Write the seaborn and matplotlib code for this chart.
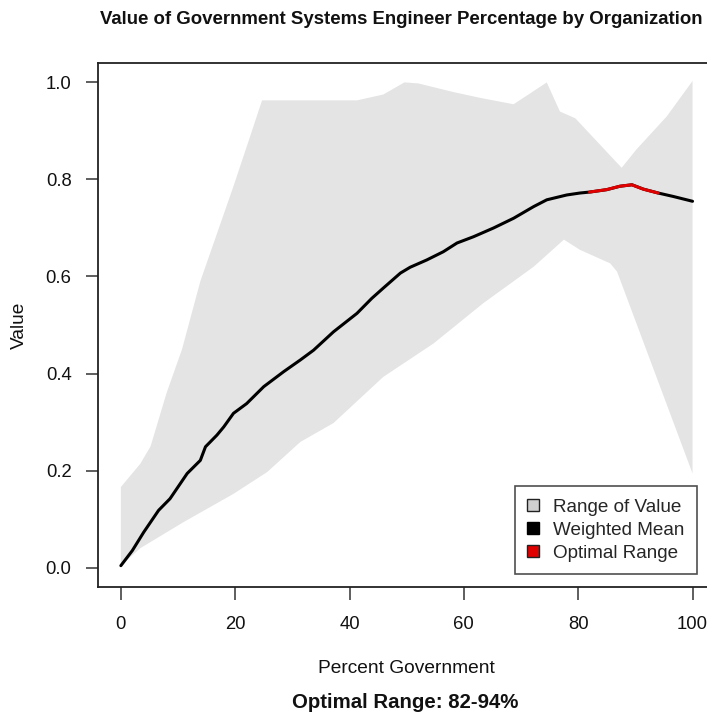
import numpy as np
import pandas as pd
import matplotlib
matplotlib.use("Agg")
import matplotlib.pyplot as plt
from matplotlib.patches import Patch
import seaborn as sns

# Weighted mean value by percent government
pct_mean = [0, 2, 4, 6.6, 8.6, 11.6, 13.9, 14.8, 16.8, 18, 19.7, 22, 25, 28.5,
            31.4, 33.7, 37.2, 41.3, 43.9, 45.9, 48.9, 50.6, 53.5, 56.4, 58.8,
            61.7, 65.2, 68.7, 72.2, 74.5, 78, 80.3, 82, 85, 87.3, 89.4, 91.4,
            94, 96.6, 100]
val_mean = [0.004, 0.035, 0.073, 0.118, 0.142, 0.194, 0.221, 0.249, 0.273,
            0.290, 0.318, 0.338, 0.373, 0.404, 0.428, 0.448, 0.486, 0.524,
            0.555, 0.576, 0.607, 0.619, 0.634, 0.651, 0.669, 0.682, 0.700,
            0.720, 0.744, 0.758, 0.768, 0.772, 0.774, 0.779, 0.786, 0.789,
            0.780, 0.772, 0.765, 0.755]

# Upper edge of the range of value
pct_upper = [0, 3.4, 5.2, 8, 10.7, 13.9, 19.7, 22.9, 24.7, 41.3, 45.9, 49.6,
             52, 58.2, 62.9, 68.7, 72.2, 74.5, 76.8, 79.5, 87.6, 90.2, 95.5, 100]
val_upper = [0.166, 0.214, 0.250, 0.360, 0.450, 0.590, 0.786, 0.899, 0.963,
             0.963, 0.975, 1.000, 0.998, 0.980, 0.968, 0.955, 0.982, 1.000,
             0.940, 0.926, 0.824, 0.862, 0.930, 1.003]

# Lower edge of the range of value
pct_lower = [0, 3.4, 11, 19.7, 25.6, 31.4, 37.2, 45.9, 54.7, 63.4, 72.2, 77.5,
             80.3, 85.6, 86.8, 100]
val_lower = [0.004, 0.040, 0.094, 0.152, 0.197, 0.259, 0.298, 0.393, 0.462,
             0.545, 0.620, 0.676, 0.655, 0.627, 0.610, 0.194]

optimal_low, optimal_high = 82, 94
x_ticks = [0, 20, 40, 60, 80, 100]
y_ticks = [0.0, 0.2, 0.4, 0.6, 0.8, 1.0]
legend_labels = ["Range of Value", "Weighted Mean", "Optimal Range"]

sns.set_style("ticks")
plt.rcParams["font.family"] = ["Liberation Sans", "DejaVu Sans"]

W, H = 707, 714
fig = plt.figure(figsize=(W / 100, H / 100), dpi=100)
ax = fig.add_axes([98 / W, (H - 587) / H, 617.4 / W, 524 / H])

# Range band as a closed polygon: upper edge out, lower edge back
band_x = np.concatenate([pct_upper, pct_lower[::-1]])
band_y = np.concatenate([val_upper, val_lower[::-1]])
ax.fill(band_x, band_y, color="#e4e4e4", linewidth=0, zorder=1)

mean_df = pd.DataFrame({"pct": pct_mean, "value": val_mean})
sns.lineplot(data=mean_df, x="pct", y="value", ax=ax, color="black",
             linewidth=2.2, zorder=3, estimator=None, sort=False)
opt_df = mean_df[(mean_df.pct >= optimal_low) & (mean_df.pct <= optimal_high)]
sns.lineplot(data=opt_df, x="pct", y="value", ax=ax, color="#e00000",
             linewidth=2.2, zorder=4, estimator=None, sort=False)

ax.set_xlim(-4, 104)
ax.set_ylim(-0.04, 1.04)
ax.set_xticks(x_ticks)
ax.set_xticklabels([str(t) for t in x_ticks])
ax.set_yticks(y_ticks)
ax.set_yticklabels([f"{t:.1f}" for t in y_ticks])
for s in ax.spines.values():
    s.set_visible(True)
    s.set_color("#222222")
    s.set_linewidth(1.3)
ax.tick_params(axis="both", length=9, width=1.1, color="#333333",
               labelsize=13.3, labelcolor="#111111")
ax.tick_params(axis="x", pad=12)
ax.tick_params(axis="y", pad=10)

ax.set_xlabel("Percent Government", fontsize=13.8, labelpad=19, color="#111111")
ax.set_ylabel("Value", fontsize=13.8, labelpad=13, color="#111111")

fig.text(401 / W, 1 - 20 / H,
         "Value of Government Systems Engineer Percentage by Organization",
         ha="center", va="center", fontsize=13.4, fontweight="bold",
         color="#111111")
fig.text(405 / W, 1 - 702 / H, f"Optimal Range: {optimal_low}-{optimal_high}%",
         ha="center", va="center", fontsize=14.7, fontweight="bold",
         color="#111111")

handles = [Patch(facecolor="#cfcfcf", edgecolor="#222222", label=legend_labels[0]),
           Patch(facecolor="black", edgecolor="black", label=legend_labels[1]),
           Patch(facecolor="#e00000", edgecolor="#222222", label=legend_labels[2])]
leg = ax.legend(handles=handles, loc="lower right",
                bbox_to_anchor=(0.970, 0.0248), borderaxespad=0,
                fontsize=13.6, fancybox=False, frameon=True,
                handlelength=0.65, handleheight=0.65, handletextpad=0.75,
                labelspacing=0.32, borderpad=0.65)
leg.get_frame().set_edgecolor("#222222")
leg.get_frame().set_linewidth(1.2)
leg.set_zorder(5)

fig.savefig("out.png", dpi=100)
